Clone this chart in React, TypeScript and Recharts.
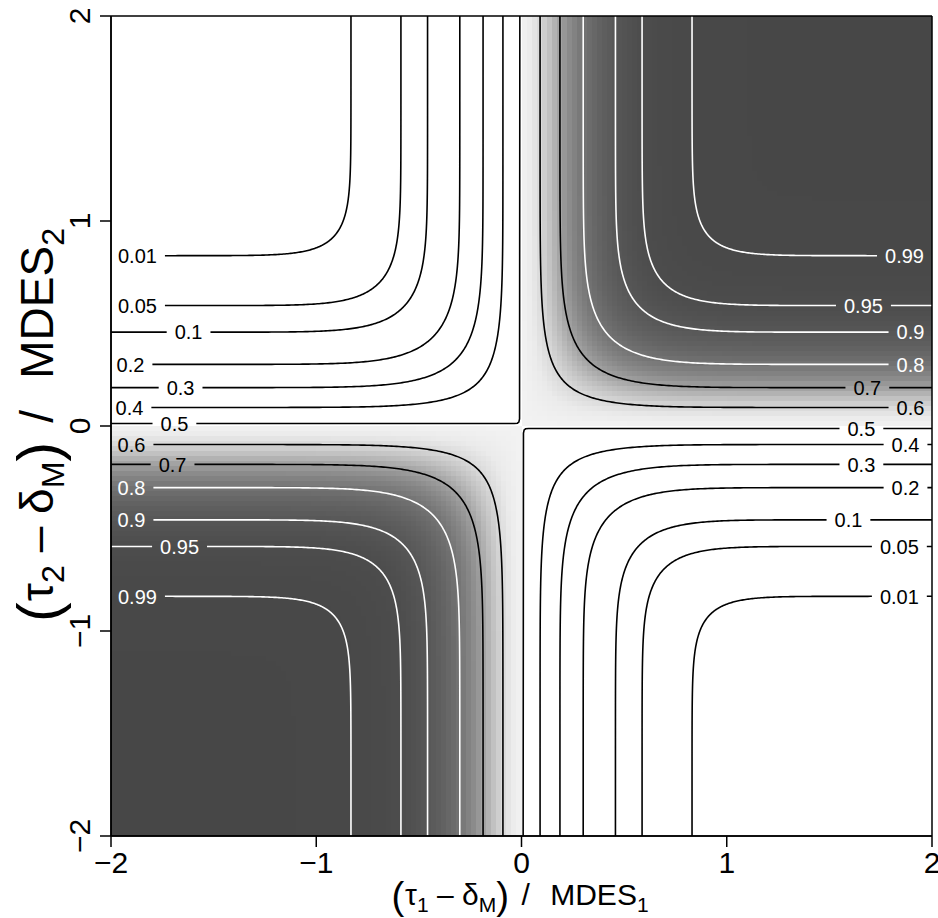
import React from 'react';
import { ComposedChart, XAxis, YAxis, Scatter, Line, ReferenceLine } from 'recharts';

const FONT = '"Liberation Sans", Arial, Helvetica, sans-serif';

// ---- axes ----
const AXIS_TICKS = [-2, -1, 0, 1, 2];
const AXIS_TICK_LABELS = ['\u22122', '\u22121', '0', '1', '2'];

// ---- contour levels ----
const HIGH_LEVELS = [0.6, 0.7, 0.8, 0.9, 0.95, 0.99];
const LOW_LEVELS = [0.4, 0.3, 0.2, 0.1, 0.05, 0.01];
const WHITE_LEVELS = [0.8, 0.9, 0.95, 0.99];
// scale of the surface: standardized effect / MDES -> z  (z_.975 + z_.80)
const MDES_MULTIPLIER = 2.8;

// label anchor x (data units) for each level, per quadrant
const LABEL_X_UPPER_RIGHT = [1.895, 1.685, 1.895, 1.895, 1.666, 1.866];
const LABEL_X_LOWER_LEFT = [-1.9, -1.7, -1.9, -1.9, -1.666, -1.871];
const LABEL_X_UPPER_LEFT = [-1.91, -1.661, -1.905, -1.622, -1.871, -1.871];
const LABEL_X_LOWER_RIGHT = [1.871, 1.656, 1.871, 1.593, 1.841, 1.841];

// the 0.5 contour (two corner pieces hugging the axes)
const HALF_UL_X = [-2, -0.035, -0.02, -0.013, -0.0095, -0.008];
const HALF_UL_Y = [0.012, 0.012, 0.0135, 0.019, 0.035, 2];
const HALF_LR_X = [2, 0.035, 0.02, 0.013, 0.0095, 0.008];
const HALF_LR_Y = [-0.012, -0.012, -0.0135, -0.019, -0.035, -2];
const HALF_LABEL_X = [-1.691, 1.656];

// grey shade key (value -> grey fraction)
const SHADE_AT = [0.5, 0.55, 0.6, 0.65, 0.7, 0.75, 0.8, 0.85, 0.9, 0.95, 1];
const SHADE_GRAY = [0.95, 0.92, 0.85, 0.75, 0.63, 0.53, 0.45, 0.39, 0.34, 0.3, 0.28];

// ---- layout ----
const CHART_W = 938;
const CHART_H = 918;
const PLOT_W = 821;
const PLOT_H = 820;
const GRID_N = 164;
const LABEL_FONT = 20;
const LABEL_PAD = 8;
const TICK_FONT = 30;

function erf(x: number) {
  const s = x < 0 ? -1 : 1;
  const ax = Math.abs(x);
  const t = 1 / (1 + 0.3275911 * ax);
  const y = 1 - (((((1.061405429 * t - 1.453152027) * t) + 1.421413741) * t - 0.284496736) * t + 0.254829592) * t * Math.exp(-ax * ax);
  return s * y;
}
const Phi = (z: number) => 0.5 * (1 + erf(z / Math.SQRT2));
function PhiInv(p: number) {
  let lo = -12, hi = 12;
  for (let i = 0; i < 80; i++) {
    const m = (lo + hi) / 2;
    if (Phi(m) < p) lo = m; else hi = m;
  }
  return (lo + hi) / 2;
}
const A = MDES_MULTIPLIER;
function surface(x: number, y: number) {
  return Phi(A * x) * Phi(A * y) + Phi(-A * x) * Phi(-A * y);
}
function shade(f: number) {
  if (f <= SHADE_AT[0]) return SHADE_GRAY[0];
  for (let i = 1; i < SHADE_AT.length; i++) {
    if (f <= SHADE_AT[i]) {
      const t = (f - SHADE_AT[i - 1]) / (SHADE_AT[i] - SHADE_AT[i - 1]);
      return SHADE_GRAY[i - 1] + t * (SHADE_GRAY[i] - SHADE_GRAY[i - 1]);
    }
  }
  return SHADE_GRAY[SHADE_GRAY.length - 1];
}

function buildHeat() {
  const step = 4 / GRID_N;
  const out: any[] = [];
  for (let j = 0; j < GRID_N; j++) {
    const yc = -2 + (j + 0.5) * step;
    let run: any = null;
    for (let i = 0; i < GRID_N; i++) {
      const xc = -2 + (i + 0.5) * step;
      const f = surface(xc, yc);
      if (f <= 0.5) {
        if (run) { out.push(run); run = null; }
        continue;
      }
      const g = Math.round(shade(f) * 255);
      if (run && run.g === g) {
        run.x1 = xc + step / 2;
      } else {
        if (run) out.push(run);
        run = { g, x0: xc - step / 2, x1: xc + step / 2, y: yc };
      }
    }
    if (run) out.push(run);
  }
  return out.map((r) => ({ x: (r.x0 + r.x1) / 2, y: r.y, w: r.x1 - r.x0, g: r.g }));
}

function textWidth(s: string) {
  let w = 0;
  for (const ch of s) w += ch === '.' ? 0.278 : 0.556;
  return w * LABEL_FONT;
}
const pxToUnitsX = (px: number) => (px * 4) / PLOT_W;

function yOnContour(q: number, x: number) {
  const u = Phi(A * x);
  const v = (q - 1 + u) / (2 * u - 1);
  return PhiInv(v) / A;
}

// contour of level q (>0.5) in the upper-right frame, reflected by (sx, sy)
function buildCurve(q: number, labelAbsX: number, halfGap: number, sx: number, sy: number) {
  const ud = (1 + Math.sqrt(2 * q - 1)) / 2;
  const xd = PhiInv(ud) / A;
  const xs: number[] = [];
  const M = 140;
  for (let k = 0; k <= M; k++) {
    const t = k / M;
    xs.push(xd + (2 - xd) * t * t);
  }
  const g0 = labelAbsX - halfGap;
  const g1 = labelAbsX + halfGap;
  if (g0 > xd && g0 < 2) xs.push(g0);
  if (g1 > xd && g1 < 2) xs.push(g1);
  xs.sort((a, b) => a - b);
  const branch = xs.map((x, k) => ({ x, y: k === 0 ? xd : yOnContour(q, x) }));
  const vertical = branch.slice(1).reverse().map((p) => ({ x: p.y, y: p.x }));
  const pts: any[] = [...vertical];
  let gapDone = false;
  for (const p of branch) {
    if (p.x > g0 + 1e-9 && p.x < g1 - 1e-9) {
      if (!gapDone) { pts.push({ x: labelAbsX, y: null }); gapDone = true; }
      continue;
    }
    pts.push(p);
  }
  const data = pts.map((p) => ({ x: p.x * sx, y: p.y == null ? null : p.y * sy }));
  const label = { x: labelAbsX * sx, y: yOnContour(q, labelAbsX) * sy };
  return { data, label };
}

function buildHalf(xsIn: number[], ysIn: number[], labelX: number, halfGap: number) {
  const x0 = xsIn[0];
  const y0 = ysIn[0];
  const near = x0 < labelX ? labelX - halfGap : labelX + halfGap;
  const far = x0 < labelX ? labelX + halfGap : labelX - halfGap;
  const data: any[] = [{ x: x0, y: y0 }, { x: near, y: y0 }, { x: labelX, y: null }, { x: far, y: y0 }];
  for (let i = 1; i < xsIn.length; i++) data.push({ x: xsIn[i], y: ysIn[i] });
  return { data, label: { x: labelX, y: y0 } };
}

const HEAT = buildHeat();

type Curve = { key: string; data: any[]; color: string };
const CURVES: Curve[] = [];
const LABELS: any[] = [];

HIGH_LEVELS.forEach((q, i) => {
  const txt = String(q);
  const hg = pxToUnitsX(textWidth(txt) / 2 + LABEL_PAD);
  const color = WHITE_LEVELS.includes(q) ? '#ffffff' : '#000000';
  const ur = buildCurve(q, LABEL_X_UPPER_RIGHT[i], hg, 1, 1);
  const ll = buildCurve(q, -LABEL_X_LOWER_LEFT[i], hg, -1, -1);
  CURVES.push({ key: 'ur' + i, data: ur.data, color });
  CURVES.push({ key: 'll' + i, data: ll.data, color });
  LABELS.push({ ...ur.label, text: txt, fill: color });
  LABELS.push({ ...ll.label, text: txt, fill: color });
});
LOW_LEVELS.forEach((p, i) => {
  const txt = String(p);
  const hg = pxToUnitsX(textWidth(txt) / 2 + LABEL_PAD);
  const q = 1 - p;
  const ul = buildCurve(q, -LABEL_X_UPPER_LEFT[i], hg, -1, 1);
  const lr = buildCurve(q, LABEL_X_LOWER_RIGHT[i], hg, 1, -1);
  CURVES.push({ key: 'ul' + i, data: ul.data, color: '#000000' });
  CURVES.push({ key: 'lr' + i, data: lr.data, color: '#000000' });
  LABELS.push({ ...ul.label, text: txt, fill: '#000000' });
  LABELS.push({ ...lr.label, text: txt, fill: '#000000' });
});
{
  const hg = pxToUnitsX(textWidth('0.5') / 2 + LABEL_PAD);
  const a = buildHalf(HALF_UL_X, HALF_UL_Y, HALF_LABEL_X[0], hg);
  const b = buildHalf(HALF_LR_X, HALF_LR_Y, HALF_LABEL_X[1], hg);
  CURVES.push({ key: 'h0', data: a.data, color: '#000000' });
  CURVES.push({ key: 'h1', data: b.data, color: '#000000' });
  LABELS.push({ ...a.label, text: '0.5', fill: '#000000' });
  LABELS.push({ ...b.label, text: '0.5', fill: '#000000' });
}

const HeatCell = (props: any) => {
  const { cx, cy, payload } = props;
  if (cx == null || cy == null || !payload) return null;
  const w = (payload.w * PLOT_W) / 4;
  const h = ((4 / GRID_N) * PLOT_H) / 4;
  const g = payload.g;
  return (
    <rect
      x={cx - w / 2}
      y={cy - h / 2}
      width={w + 0.4}
      height={h + 0.4}
      fill={`rgb(${g},${g},${g})`}
      shapeRendering="crispEdges"
    />
  );
};

const ContourLabel = (props: any) => {
  const { cx, cy, payload } = props;
  if (cx == null || cy == null || !payload) return null;
  return (
    <text x={cx} y={cy} dy="0.36em" textAnchor="middle" fontSize={LABEL_FONT} fontFamily={FONT} fill={payload.fill}>
      {payload.text}
    </text>
  );
};

const tickText = (v: number) => {
  const i = AXIS_TICKS.indexOf(v);
  return i >= 0 ? AXIS_TICK_LABELS[i] : String(v);
};

const XTick = (props: any) => {
  const { x, y, payload } = props;
  return (
    <text x={x} y={y + 26} textAnchor="middle" fontSize={TICK_FONT} fontFamily={FONT} fill="#000">
      {tickText(payload.value)}
    </text>
  );
};

const YTick = (props: any) => {
  const { x, y, payload } = props;
  const bx = x - 10;
  return (
    <text x={bx} y={y} transform={`rotate(-90 ${bx} ${y})`} textAnchor="middle" fontSize={TICK_FONT} fontFamily={FONT} fill="#000">
      {tickText(payload.value)}
    </text>
  );
};

// axis title in plotmath style: (tau_k - delta_M) / MDES_k
const Title = (p: { x: number; y: number; fs: number; idx: string; rotate?: boolean }) => {
  const { x, y, fs, idx, rotate } = p;
  const sub = fs * 0.7;
  const par = fs * 1.28;
  const sd = fs * 0.23;
  const pd = fs * 0.12;
  return (
    <text
      x={x}
      y={y}
      transform={rotate ? `rotate(-90 ${x} ${y})` : undefined}
      textAnchor="middle"
      fontSize={fs}
      fontFamily={FONT}
      fill="#000"
    >
      <tspan fontSize={par} dy={pd}>(</tspan>
      <tspan dy={-pd} dx={fs * 0.03}>τ</tspan>
      <tspan fontSize={sub} dy={sd}>{idx}</tspan>
      <tspan dy={-sd}>{' \u2013 δ'}</tspan>
      <tspan fontSize={sub} dy={sd}>M</tspan>
      <tspan fontSize={par} dy={pd - sd}>)</tspan>
      <tspan dy={-pd} dx={fs * 0.14}>{' /'}</tspan>
      <tspan dx={fs * 0.4}>{' MDES'}</tspan>
      <tspan fontSize={sub} dy={sd}>{idx}</tspan>
    </text>
  );
};

const XTitle = () => <Title x={520} y={905} fs={30} idx="1" />;
const YTitle = () => <Title x={53} y={425} fs={46} idx="2" rotate />;

export default function App() {
  return (
    <div style={{ position: 'absolute', left: 0, top: 0, width: CHART_W, height: CHART_H, background: '#fff' }}>
      <ComposedChart width={CHART_W} height={CHART_H} margin={{ top: 16, right: 6, bottom: 0, left: 0 }}>
        <XAxis
          type="number"
          dataKey="x"
          domain={[-2, 2]}
          ticks={AXIS_TICKS}
          allowDataOverflow
          interval={0}
          height={82}
          tickSize={11}
          tickMargin={0}
          axisLine={{ stroke: '#000', strokeWidth: 1.5 }}
          tickLine={{ stroke: '#000', strokeWidth: 1.5 }}
          tick={<XTick />}
          label={<XTitle />}
        />
        <YAxis
          type="number"
          dataKey="y"
          domain={[-2, 2]}
          ticks={AXIS_TICKS}
          allowDataOverflow
          interval={0}
          width={111}
          tickSize={11}
          tickMargin={0}
          axisLine={{ stroke: '#000', strokeWidth: 1.5 }}
          tickLine={{ stroke: '#000', strokeWidth: 1.5 }}
          tick={<YTick />}
          label={<YTitle />}
        />
        <Scatter data={HEAT} dataKey="y" shape={<HeatCell />} isAnimationActive={false} zIndex={50} legendType="none" />
        {CURVES.map((c) => (
          <Line
            key={c.key}
            data={c.data}
            dataKey="y"
            type="linear"
            stroke={c.color}
            strokeWidth={1.6}
            dot={false}
            activeDot={false}
            connectNulls={false}
            isAnimationActive={false}
            legendType="none"
            zIndex={400}
          />
        ))}
        <Scatter data={LABELS} dataKey="y" shape={<ContourLabel />} isAnimationActive={false} zIndex={1500} legendType="none" />
        <ReferenceLine x={-2} stroke="#000" strokeWidth={1.5} zIndex={1600} />
        <ReferenceLine x={2} stroke="#000" strokeWidth={1.5} zIndex={1600} />
        <ReferenceLine y={-2} stroke="#000" strokeWidth={1.5} zIndex={1600} />
        <ReferenceLine y={2} stroke="#000" strokeWidth={1.5} zIndex={1600} />
      </ComposedChart>
    </div>
  );
}
